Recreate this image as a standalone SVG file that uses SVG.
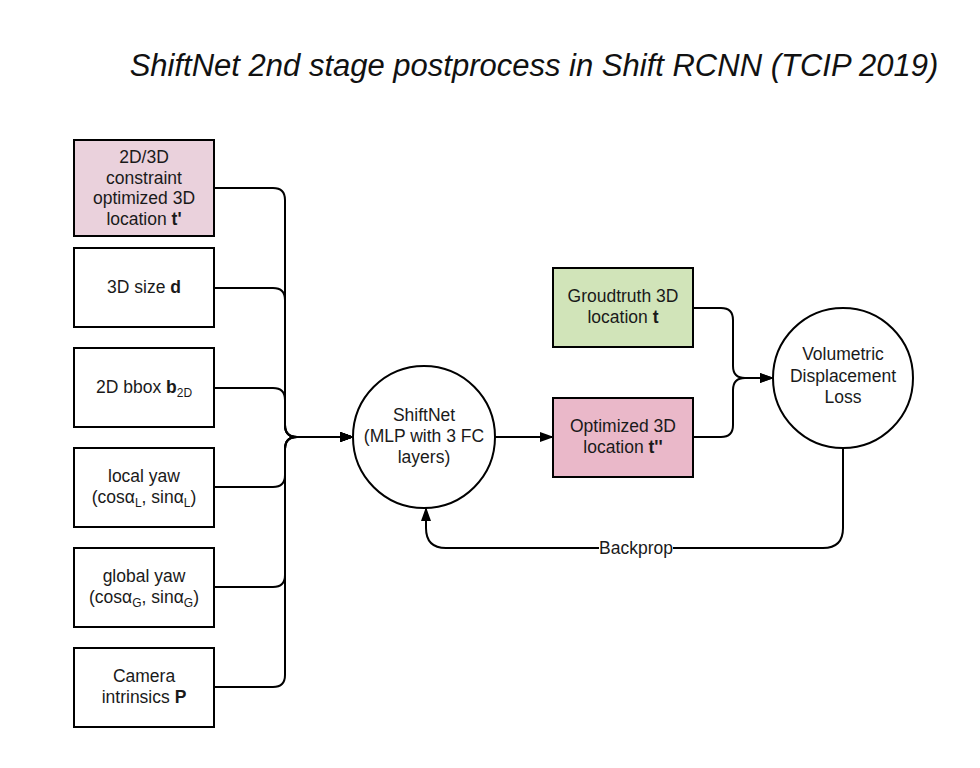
<svg xmlns="http://www.w3.org/2000/svg" width="980" height="768" viewBox="0 0 980 768">
<defs>
<marker id="arr" viewBox="0 0 14 10" refX="13" refY="5" markerWidth="14" markerHeight="10" markerUnits="userSpaceOnUse" orient="auto">
<path d="M0,0 L14,5 L0,10 z" fill="#000"/>
</marker>
<style>
.box{stroke:#000;stroke-width:2}
.t{font-family:"Liberation Sans",Arial,sans-serif;font-size:17.5px;fill:#1a1a1a;text-anchor:middle}
.c{fill:none;stroke:#000;stroke-width:2}
.b{font-weight:bold}
.s{font-size:12px}
</style>
</defs>
<rect width="980" height="768" fill="#fff"/>
<text x="534" y="76" style="font-family:'Liberation Sans',Arial,sans-serif;font-size:31px;font-style:italic;fill:#111" text-anchor="middle">ShiftNet 2nd stage postprocess in Shift RCNN (TCIP 2019)</text>

<g id="connectors">
<path class="c" d="M214,188 H273 Q285,188 285,200 V425 Q285,437 297,437 H353" marker-end="url(#arr)"/>
<path class="c" d="M214,288 H273 Q285,288 285,300 V425 Q285,437 297,437 H353" marker-end="url(#arr)"/>
<path class="c" d="M214,388 H273 Q285,388 285,400 V425 Q285,437 297,437 H353" marker-end="url(#arr)"/>
<path class="c" d="M214,487 H273 Q285,487 285,475 V449 Q285,437 297,437 H353" marker-end="url(#arr)"/>
<path class="c" d="M214,587 H273 Q285,587 285,575 V449 Q285,437 297,437 H353" marker-end="url(#arr)"/>
<path class="c" d="M214,687 H273 Q285,687 285,675 V449 Q285,437 297,437 H353" marker-end="url(#arr)"/>
<path class="c" d="M495,437 H553" marker-end="url(#arr)"/>
<path class="c" d="M693,308 H721 Q733,308 733,320 V366 Q733,378 745,378 H773" marker-end="url(#arr)"/>
<path class="c" d="M693,437 H721 Q733,437 733,425 V390 Q733,378 745,378 H773" marker-end="url(#arr)"/>
<path class="c" d="M843,448 V528 Q843,548 823,548 H446 Q426,548 426,528 V508" marker-end="url(#arr)"/>
<rect x="599" y="538" width="74" height="20" fill="#fff"/>
<text class="t" x="636" y="554">Backprop</text>
</g>

<g id="n1">
<rect class="box" x="74" y="140" width="140" height="96" fill="#ead1dc"/>
<text class="t" x="144" y="163">2D/3D</text>
<text class="t" x="144" y="184">constraint</text>
<text class="t" x="144" y="204">optimized 3D</text>
<text class="t" x="144" y="225">location <tspan class="b">t'</tspan></text>
</g>
<g id="n2">
<rect class="box" x="74" y="248" width="140" height="79" fill="#fff"/>
<text class="t" x="144" y="293">3D size <tspan class="b">d</tspan></text>
</g>
<g id="n3">
<rect class="box" x="74" y="348" width="140" height="79" fill="#fff"/>
<text class="t" x="144" y="393">2D bbox <tspan class="b">b</tspan><tspan class="s" dy="4">2D</tspan></text>
</g>
<g id="n4">
<rect class="box" x="74" y="448" width="140" height="79" fill="#fff"/>
<text class="t" x="144" y="482">local yaw</text>
<text class="t" x="144" y="503">(cosα<tspan class="s" dy="4">L</tspan><tspan dy="-4">, sinα</tspan><tspan class="s" dy="4">L</tspan><tspan dy="-4">)</tspan></text>
</g>
<g id="n5">
<rect class="box" x="74" y="548" width="140" height="79" fill="#fff"/>
<text class="t" x="144" y="582">global yaw</text>
<text class="t" x="144" y="603">(cosα<tspan class="s" dy="4">G</tspan><tspan dy="-4">, sinα</tspan><tspan class="s" dy="4">G</tspan><tspan dy="-4">)</tspan></text>
</g>
<g id="n6">
<rect class="box" x="74" y="648" width="140" height="79" fill="#fff"/>
<text class="t" x="144" y="682">Camera</text>
<text class="t" x="144" y="703">intrinsics <tspan class="b">P</tspan></text>
</g>
<g id="shiftnet">
<circle class="box" cx="424" cy="437" r="71" fill="#fff"/>
<text class="t" x="424" y="421">ShiftNet</text>
<text class="t" x="424" y="442">(MLP with 3 FC</text>
<text class="t" x="424" y="463">layers)</text>
</g>
<g id="opt">
<rect class="box" x="553" y="398" width="140" height="79" fill="#eab8c9"/>
<text class="t" x="623" y="432">Optimized 3D</text>
<text class="t" x="623" y="453">location <tspan class="b">t''</tspan></text>
</g>
<g id="gt">
<rect class="box" x="553" y="268" width="140" height="79" fill="#d1e4b9"/>
<text class="t" x="623" y="302">Groudtruth 3D</text>
<text class="t" x="623" y="323">location <tspan class="b">t</tspan></text>
</g>
<g id="loss">
<circle class="box" cx="843" cy="378" r="70" fill="#fff"/>
<text class="t" x="843" y="360">Volumetric</text>
<text class="t" x="843" y="382">Displacement</text>
<text class="t" x="843" y="403">Loss</text>
</g>
</svg>
